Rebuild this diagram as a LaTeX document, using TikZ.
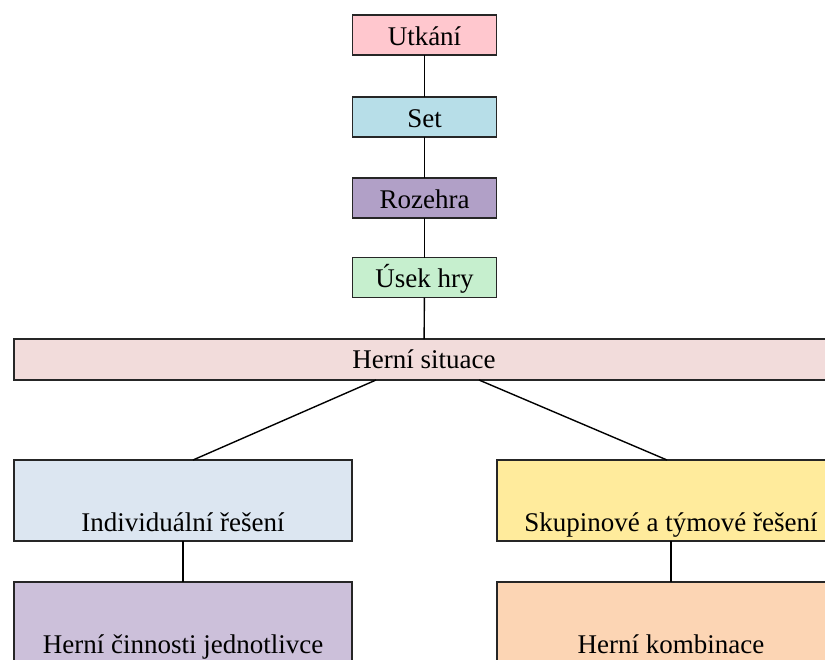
\documentclass[tikz,border=0pt]{standalone}
\usepackage{fontspec}
\setmainfont{Liberation Serif}
\definecolor{utkani}{HTML}{FFC7CE}
\definecolor{setc}{HTML}{B7DEE8}
\definecolor{rozehra}{HTML}{B1A0C7}
\definecolor{usek}{HTML}{C6EFCE}
\definecolor{situace}{HTML}{F2DCDB}
\definecolor{indiv}{HTML}{DCE6F1}
\definecolor{skup}{HTML}{FFEB9C}
\definecolor{cinnost}{HTML}{CCC0DA}
\definecolor{kombin}{HTML}{FCD5B4}
\begin{document}
\begin{tikzpicture}[x=1pt, y=1pt, yscale=-1, inner sep=0pt, outer sep=0pt,
  box/.style={draw=black!85, line width=1.5pt, font=\fontsize{27}{30}\selectfont},
  small/.style={box, minimum width=144pt, text height=30pt, text depth=10pt},
  wide/.style={box, minimum width=338pt, text height=71pt, text depth=10pt},
  link/.style={draw=black, line width=1.4pt}]
\useasboundingbox (0,0) rectangle (825,659);
\clip (0,0) rectangle (825,659);
% top chain
\node[small, fill=utkani] (utk) at (424.5,35) {Utkání};
\node[small, fill=setc] (set) at (424.5,117) {Set};
\node[small, fill=rozehra] (roz) at (424.5,198) {Rozehra};
\node[small, fill=usek] (usk) at (424.5,277.5) {Úsek hry};
\node[box, fill=situace, minimum width=820pt, text height=29pt, text depth=12pt] (sit) at (424,359.5) {Herní situace};
% two branches
\node[wide, fill=indiv] (ind) at (183,500.5) {Individuální řešení};
\node[wide, fill=skup, minimum width=348pt] (sku) at (671,500.5) {Skupinové a týmové řešení};
\node[wide, fill=cinnost] (cin) at (183,622.5) {Herní činnosti jednotlivce};
\node[wide, fill=kombin, minimum width=348pt] (kom) at (671,622.5) {Herní kombinace};
% connectors
\draw[link] (utk) -- (set);
\draw[link] (set) -- (roz);
\draw[link] (roz) -- (usk);
\draw[link] (usk) -- (sit);
\draw[link] ([xshift=-48pt]sit.south) -- ([xshift=10pt]ind.north);
\draw[link] ([xshift=55pt]sit.south) -- ([xshift=-4pt]sku.north);
\draw[link] (ind) -- (cin);
\draw[link] (sku) -- (kom);
\end{tikzpicture}
\end{document}
